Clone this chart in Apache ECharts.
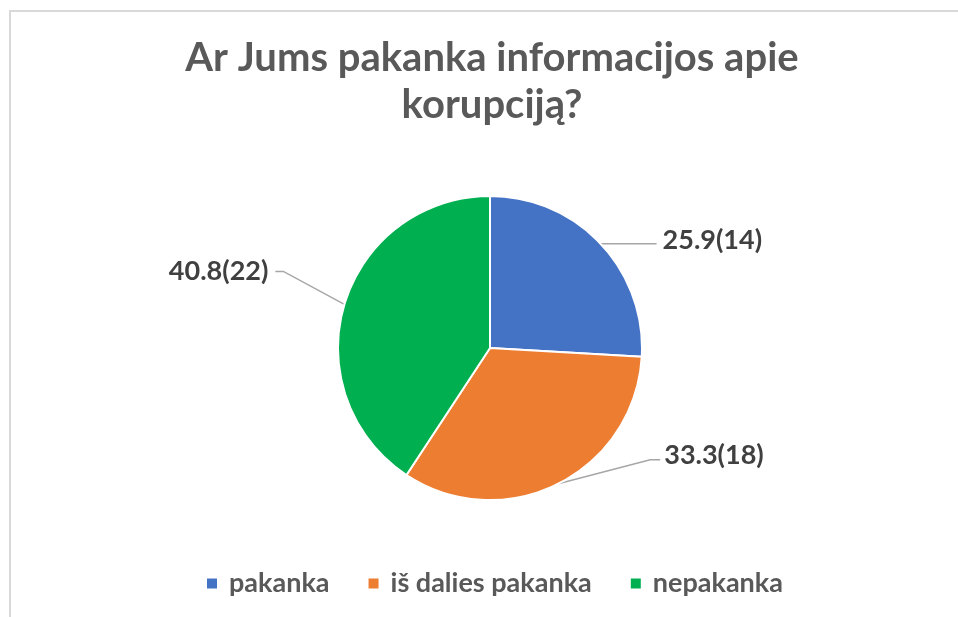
<!DOCTYPE html>
<html>
<head>
<meta charset="utf-8">
<script src="https://cdn.jsdelivr.net/npm/echarts@6/dist/echarts.min.js"></script>
<style>
  html, body { margin: 0; padding: 0; background: #fff; }
  #container { width: 958px; height: 617px; }
</style>
</head>
<body>
<div id="container"></div>
<script>
var categorias = ['pakanka', 'iš dalies pakanka', 'nepakanka'];
var cantidades = [14, 18, 22];
var porcentajes = ['25.9', '33.3', '40.8'];
var colores = ['#4472C4', '#ED7D31', '#00B050'];

// desplazamientos de las etiquetas respecto al punto de inicio en el borde
var guias = [
	{ codo: [56, 0], fin: [56, 0], texto: [62, -3], align: 'left' },
	{ codo: [92, -24], fin: [102, -24], texto: [106, -29], align: 'left' },
	{ codo: [-61, -33], fin: [-69, -33], texto: [-76, -33], align: 'right' }
];

var dom = document.getElementById('container');
var myChart = echarts.init(dom);

var seriesData = [];
categorias.forEach((item, index) => {
	seriesData.push({
		name: item,
		value: cantidades[index],
		itemStyle: { color: colores[index] }
	});
});

var option = {
	animation: false,
	backgroundColor: '#fff',
	title: {
		text: 'Ar Jums pakanka informacijos apie\nkorupciją?',
		left: 492,
		textAlign: 'center',
		top: 35,
		padding: 0,
		textStyle: {
			fontFamily: 'Lato',
			fontWeight: 'bold',
			fontSize: 40,
			lineHeight: 47,
			color: '#595959'
		}
	},
	graphic: [
		{
			type: 'rect',
			shape: { x: 10, y: 11, width: 1000, height: 700 },
			style: { fill: 'none', stroke: '#d9d9d9', lineWidth: 2 },
			silent: true
		}
	],
	legend: {
		data: categorias,
		left: 205,
		top: 570,
		padding: 0,
		icon: 'rect',
		itemWidth: 12,
		itemHeight: 12,
		itemGap: 37,
		textStyle: {
			fontFamily: 'Lato',
			fontWeight: 'bold',
			fontSize: 27,
			color: '#595959',
			padding: [0, 0, 0, 6]
		}
	},
	series: [
		{
			type: 'pie',
			center: [490, 348],
			radius: 152,
			startAngle: 90,
			clockwise: true,
			itemStyle: { borderColor: '#fff', borderWidth: 2 },
			label: {
				show: true,
				position: 'outside',
				formatter: function (p) {
					return porcentajes[p.dataIndex] + '(' + cantidades[p.dataIndex] + ')';
				},
				fontFamily: 'Lato',
				fontWeight: 'bold',
				fontSize: 27,
				color: '#404040'
			},
			labelLine: {
				show: true,
				length: 10,
				length2: 10,
				lineStyle: { color: '#a6a6a6', width: 1.5 }
			},
			labelLayout: function (params) {
				var g = guias[params.dataIndex];
				var p0 = params.labelLinePoints[0];
				return {
					x: p0[0] + g.texto[0],
					y: p0[1] + g.texto[1],
					align: g.align,
					verticalAlign: 'middle',
					labelLinePoints: [
						[p0[0], p0[1]],
						[p0[0] + g.codo[0], p0[1] + g.codo[1]],
						[p0[0] + g.fin[0], p0[1] + g.fin[1]]
					]
				};
			},
			data: seriesData
		}
	]
};

myChart.setOption(option, true);
</script>
</body>
</html>
